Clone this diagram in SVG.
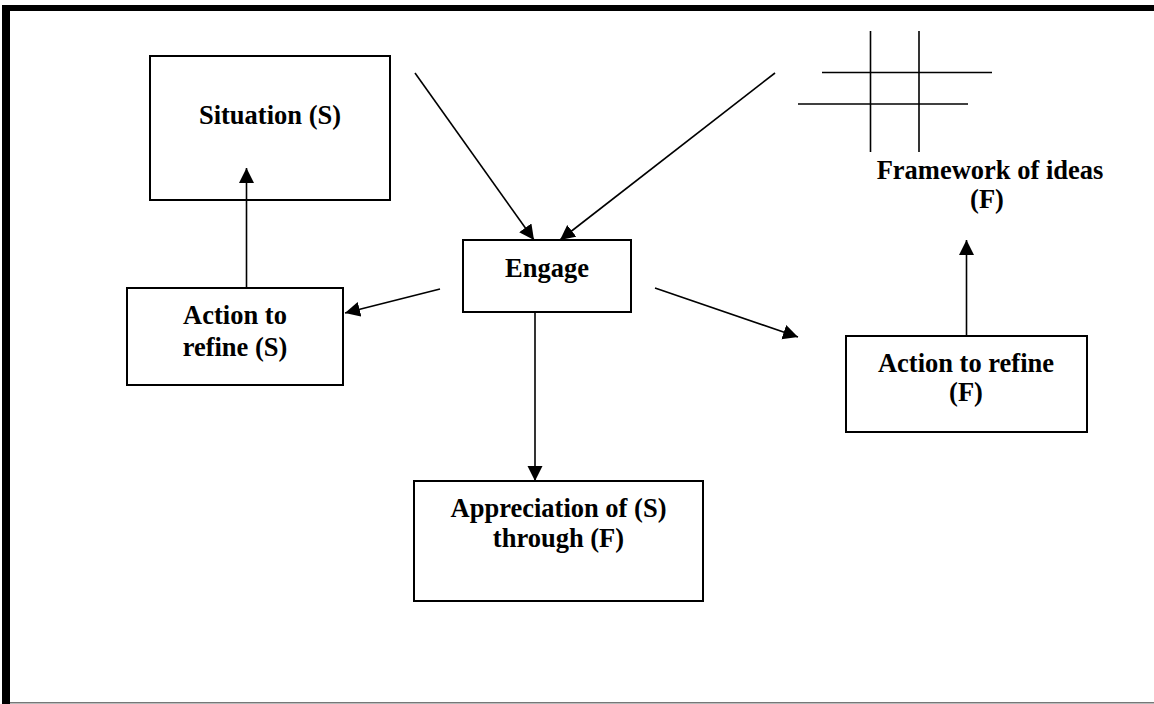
<svg xmlns="http://www.w3.org/2000/svg" width="1154" height="704" viewBox="0 0 1154 704">
  <style>
    .box { fill: #fff; stroke: #000; stroke-width: 2; }
    .lbl { font-family: "Liberation Serif", "Times New Roman", serif; font-weight: bold; font-size: 26.5px; fill: #000; text-anchor: middle; }
    .conn { stroke: #000; stroke-width: 1.6; fill: none; marker-end: url(#arrow); }
    .grid { stroke: #000; stroke-width: 1.6; }
  </style>
  <defs>
    <marker id="arrow" markerUnits="userSpaceOnUse" markerWidth="16" markerHeight="16" refX="15" refY="7.5" orient="auto">
      <path d="M0,0 L15,7.5 L0,15 Z" fill="#000"/>
    </marker>
  </defs>

  <!-- page background and border -->
  <rect x="0" y="0" width="1154" height="704" fill="#fff"/>
  <rect x="2" y="5" width="1152" height="6" fill="#000"/>
  <rect x="2" y="5" width="8" height="699" fill="#000"/>
  <rect x="10" y="702" width="1144" height="1.5" fill="#777"/>

  <g id="situation">
    <rect class="box" x="150" y="56" width="240" height="144"/>
    <text class="lbl" x="270" y="124">Situation (S)</text>
  </g>

  <g id="framework">
    <line class="grid" x1="870.5" y1="31" x2="870.5" y2="152"/>
    <line class="grid" x1="919" y1="31" x2="919" y2="152"/>
    <line class="grid" x1="822" y1="72.5" x2="992" y2="72.5"/>
    <line class="grid" x1="798" y1="104" x2="968" y2="104"/>
    <text class="lbl" x="990" y="179">Framework of ideas</text>
    <text class="lbl" x="987" y="208">(F)</text>
  </g>

  <g id="engage">
    <rect class="box" x="463" y="240" width="168" height="72"/>
    <text class="lbl" x="547" y="277">Engage</text>
  </g>

  <g id="action-s">
    <rect class="box" x="127" y="288" width="216" height="97"/>
    <text class="lbl" x="235" y="324">Action to</text>
    <text class="lbl" x="235" y="356">refine (S)</text>
  </g>

  <g id="action-f">
    <rect class="box" x="846" y="336" width="241" height="96"/>
    <text class="lbl" x="966" y="372">Action to refine</text>
    <text class="lbl" x="966" y="401">(F)</text>
  </g>

  <g id="appreciation">
    <rect class="box" x="414" y="481" width="289" height="120"/>
    <text class="lbl" x="558.5" y="517">Appreciation of (S)</text>
    <text class="lbl" x="558.5" y="547">through (F)</text>
  </g>

  <!-- connectors, drawn over the boxes so heads inside a box stay visible -->
  <g id="connectors">
    <line class="conn" x1="415" y1="73" x2="534" y2="240"/>
    <line class="conn" x1="775" y1="73" x2="560" y2="240"/>
    <line class="conn" x1="440" y1="289" x2="345" y2="313"/>
    <line class="conn" x1="655" y1="288" x2="798" y2="337"/>
    <line class="conn" x1="535" y1="312" x2="535" y2="481"/>
    <line class="conn" x1="246.5" y1="288" x2="246.5" y2="168"/>
    <line class="conn" x1="966.5" y1="336" x2="966.5" y2="240"/>
  </g>
</svg>
